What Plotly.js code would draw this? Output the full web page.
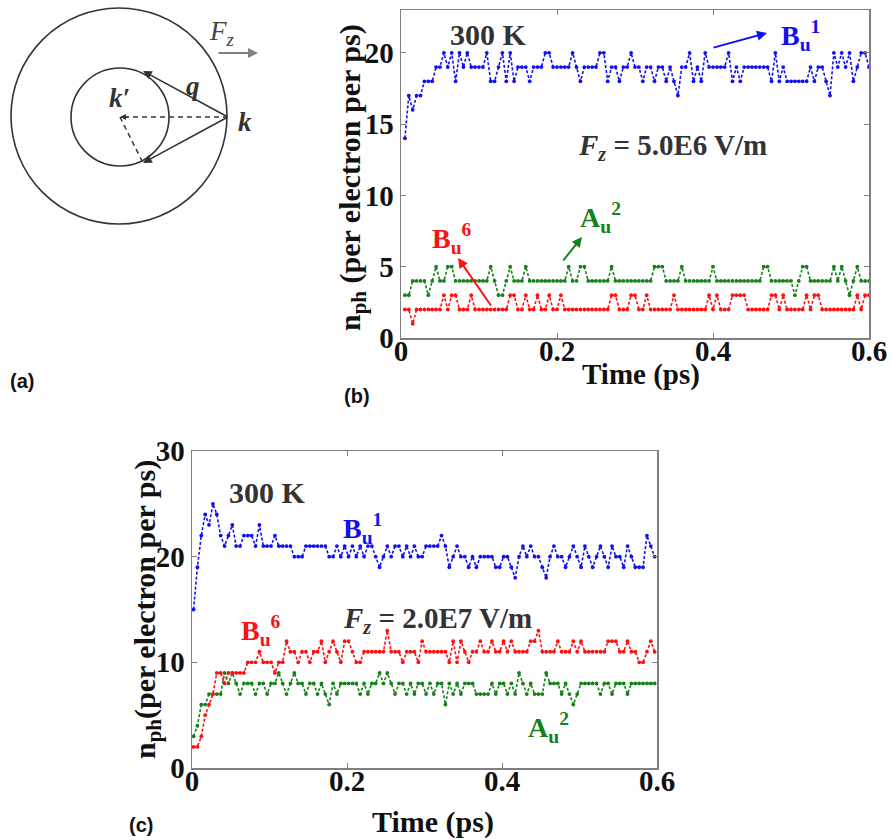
<!DOCTYPE html>
<html>
<head>
<meta charset="utf-8">
<script src="https://cdn.plot.ly/plotly-3.0.1.min.js"></script>
<style>html,body{margin:0;padding:0;background:#fff;}#chart{width:892px;height:840px;}</style>
</head>
<body>
<div id="chart"></div>
<script>
// ---------- data ----------
const timeStartB = 0.005, timeStartC = 0.002, timeStep = 0.005, nPoints = 120;
const timeB = Array.from({length: nPoints}, (_, i) => +(timeStartB + timeStep * i).toFixed(4));
const timeC = Array.from({length: nPoints}, (_, i) => +(timeStartC + timeStep * i).toFixed(4));

// panel (b): Fz = 5.0E6 V/m
const bu1B = [14,17,16,17,17,18,18,18,19,19, 20,19,20,18,20,19,20,19,19,19,
              19,20,18,18,19,20,18,20,18,19, 19,19,18,19,19,19,20,20,19,19,
              19,19,19,20,19,18,19,19,19,19, 20,20,18,19,19,18,19,19,20,19,
              19,18,19,19,18,19,19,18,19,18, 17,19,19,20,18,19,18,20,19,19,
              19,19,19,20,18,19,18,19,19,19, 19,19,19,19,18,20,18,19,18,18,
              18,18,18,18,19,18,19,19,18,17, 20,19,20,19,20,18,19,20,20,19];
const au2B = [3,3,4,4,4,4,3,4,5,4, 4,5,5,4,4,4,4,4,4,4,
              4,4,5,4,3,3,4,5,4,4, 4,5,4,4,4,4,4,4,4,4,
              4,4,5,4,4,5,5,4,4,4, 4,4,4,5,4,4,4,4,4,4,
              4,4,4,4,5,5,5,4,4,4, 4,5,4,4,4,4,4,4,4,5,
              4,4,4,4,4,4,4,4,4,4, 4,4,5,5,4,4,4,4,4,4,
              3,4,5,5,4,4,4,4,4,4, 5,4,5,4,3,4,5,4,4,4];
const bu6B = [2,2,1,2,2,2,2,2,2,2, 3,2,3,3,2,2,2,3,2,2,
              2,2,2,2,2,2,2,3,3,2, 2,3,2,2,3,2,2,3,2,2,
              3,2,2,2,2,2,2,2,2,2, 2,2,2,3,3,2,2,2,3,3,
              2,2,3,2,2,2,2,2,2,3, 2,2,2,2,2,2,2,2,3,2,
              3,2,2,2,3,3,3,3,2,2, 2,2,2,2,3,3,2,3,2,2,
              2,2,2,3,2,3,3,2,2,2, 2,2,2,2,2,2,3,2,3,3];

// panel (c): Fz = 2.0E7 V/m
const bu1C = [15,19,22,24,23,25,24,22,21,22, 23,21,21,22,22,22,21,23,21,21,
              21,22,21,21,21,21,20,20,20,21, 21,21,21,21,21,20,20,21,20,21,
              20,21,20,21,20,21,21,20,19,20, 21,20,21,21,20,21,20,21,20,20,
              21,21,21,21,22,21,19,20,21,20, 20,19,20,19,20,20,20,20,19,19,
              20,20,19,18,20,21,20,21,20,20, 19,18,20,21,20,20,19,20,21,20,
              19,21,20,19,20,21,20,19,21,20, 20,19,21,20,19,19,19,22,21,20];
const bu6C = [2,2,3,5,6,7,9,9,8,9, 9,9,9,9,10,10,10,11,10,10,
              10,9,10,10,12,11,11,10,11,11, 10,11,11,12,10,11,12,11,10,12,
              12,11,10,10,11,11,11,11,11,11, 13,11,11,11,10,11,11,11,10,12,
              11,11,11,11,11,11,10,12,10,12, 11,10,11,11,12,11,11,12,11,11,
              12,11,12,11,11,11,11,12,12,13, 11,11,11,11,12,11,11,11,12,11,
              12,11,11,11,11,11,11,12,12,12, 11,11,12,11,11,10,10,11,12,11];
const au2C = [3,4,6,6,7,7,7,7,9,8, 9,8,7,8,8,8,7,8,8,7,
              8,8,9,8,7,8,9,8,8,7, 8,8,7,8,7,6,8,7,8,8,
              8,8,8,7,8,7,8,8,9,8, 9,8,7,8,8,7,8,7,8,8,
              7,8,7,8,8,6,8,7,8,7, 8,8,8,7,7,7,7,8,7,8,
              8,7,8,7,9,8,7,8,7,7, 7,9,8,8,8,7,8,7,6,7,
              8,8,8,8,8,7,8,8,7,8, 8,8,7,8,8,8,8,8,8,8];

const ticksXB = [0, 0.2, 0.4, 0.6], tickTextXB = ['0', '0.2', '0.4', '0.6'];
const ticksYB = [0, 5, 10, 15, 20];
const ticksYC = [0, 10, 20, 30];

// ---------- styling ----------
const W = 892, H = 840;
const px = x => x / W, py = y => 1 - y / H;
const BLUE = '#1010f0', RED = '#ff1010', GREEN = '#16801a', TXT = '#333333';
const SERIF = 'Liberation Serif, Times New Roman, serif';

function series(x, y, color, xa, ya) {
  return {x: x, y: y, xaxis: xa, yaxis: ya, type: 'scatter', mode: 'lines+markers',
    line: {color: color, width: 1.6, dash: '3px,2px'},
    marker: {color: color, size: 3.8}, hoverinfo: 'x+y'};
}

const traces = [
  series(timeB, bu1B, BLUE, 'x', 'y'),
  series(timeB, au2B, GREEN, 'x', 'y'),
  series(timeB, bu6B, RED, 'x', 'y'),
  series(timeC, bu1C, BLUE, 'x2', 'y2'),
  series(timeC, au2C, GREEN, 'x2', 'y2'),
  series(timeC, bu6C, RED, 'x2', 'y2')
];

function axis(extra) {
  return Object.assign({
    showgrid: false, zeroline: false, showline: true, linecolor: '#808080', linewidth: 1.5,
    mirror: 'allticks', ticks: 'inside', ticklen: 5, tickcolor: '#808080', tickwidth: 1,
    tickfont: {family: SERIF, size: 29, color: '#111', weight: 'bold'},
    fixedrange: true
  }, extra);
}

const tf = (size, color, extra) => Object.assign({family: SERIF, size: size, color: color, weight: 'bold'}, extra || {});

function label(x, y, text, font, extra) {
  return Object.assign({xref: 'paper', yref: 'paper', x: px(x), y: py(y), text: text,
    showarrow: false, font: font, xanchor: 'center', yanchor: 'middle'}, extra || {});
}
function arrow(tipX, tipY, tailX, tailY, color, width, head, size) {
  return {xref: 'paper', yref: 'paper', x: px(tipX), y: py(tipY), ax: tailX - tipX, ay: tailY - tipY,
    text: '', showarrow: true, arrowcolor: color, arrowwidth: width, arrowhead: head, arrowsize: size};
}

const annotations = [
  // panel labels
  label(22, 381, '(a)', {family: 'Liberation Sans, Arial, sans-serif', size: 20, color: '#111', weight: 'bold'}),
  label(357, 396, '(b)', {family: 'Liberation Sans, Arial, sans-serif', size: 20, color: '#111', weight: 'bold'}),
  label(141, 825, '(c)', {family: 'Liberation Sans, Arial, sans-serif', size: 20, color: '#111', weight: 'bold'}),
  // axis titles
  label(641, 374, 'Time (ps)', tf(29, '#111')),
  label(433, 822, 'Time (ps)', tf(30, '#111')),
  label(352, 178, 'n<sub>ph</sub> (per electron per ps)', tf(30, '#111'), {textangle: -90}),
  label(147, 610, 'n<sub>ph</sub>(per electron per ps)', tf(30, '#111'), {textangle: -90}),
  // panel (b) texts
  label(488, 35, '300 K', tf(30, TXT)),
  label(672, 147, '<i>F<sub>z</sub></i> = 5.0E6 V/m', tf(29, TXT)),
  label(800, 36, 'B<sub>u</sub><sup>1</sup>', tf(28, BLUE)),
  label(452, 238, 'B<sub>u</sub><sup>6</sup>', tf(28, RED)),
  label(600, 218, 'A<sub>u</sub><sup>2</sup>', tf(28, GREEN)),
  arrow(767, 33, 712, 48, BLUE, 2, 2, 1),
  arrow(458, 258, 492, 307, RED, 2, 2, 1),
  arrow(582, 237, 562, 262, GREEN, 2, 2, 1),
  // panel (c) texts
  label(267, 492, '300 K', tf(30, TXT)),
  label(437, 620, '<i>F<sub>z</sub></i> = 2.0E7 V/m', tf(29, TXT)),
  label(362, 528, 'B<sub>u</sub><sup>1</sup>', tf(28, BLUE)),
  label(261, 630, 'B<sub>u</sub><sup>6</sup>', tf(28, RED)),
  label(548, 727, 'A<sub>u</sub><sup>2</sup>', tf(28, GREEN)),
  // panel (a) schematic labels
  label(222, 33, '<i>F<sub>z</sub></i>', {family: SERIF, size: 27, color: '#444'}),
  label(193, 86, '<i>q</i>', {family: SERIF, size: 27, color: '#333', weight: 'bold'}),
  label(245, 122, '<i>k</i>', {family: SERIF, size: 27, color: '#333', weight: 'bold'}),
  label(119, 98, '<i>k\u2032</i>', {family: SERIF, size: 27, color: '#333', weight: 'bold'}),
  arrow(258, 53, 217, 53, '#808080', 2, 2, 1),
  arrow(143, 71, 228, 117, '#333', 1.6, 2, 1.1),
  arrow(143, 163, 228, 117, '#333', 1.6, 2, 1.1),
  arrow(120, 117, 130, 117, '#333', 1.2, 2, 1)
];

function circle(cx, cy, r) {
  return {type: 'circle', xref: 'paper', yref: 'paper', x0: px(cx - r), x1: px(cx + r),
    y0: py(cy + r), y1: py(cy - r), line: {color: '#333', width: 1.6}};
}
function seg(x0, y0, x1, y1, dash) {
  return {type: 'line', xref: 'paper', yref: 'paper', x0: px(x0), y0: py(y0), x1: px(x1), y1: py(y1),
    line: {color: '#333', width: 1.5, dash: dash || 'solid'}};
}
const shapes = [
  circle(119, 116, 108),
  circle(120, 117, 49),
  seg(228, 117, 122, 117, '5px,4px'),
  seg(120, 117, 143, 163, '5px,4px')
];

const layout = {
  width: W, height: H, margin: {l: 0, r: 0, t: 0, b: 0},
  paper_bgcolor: '#fff', plot_bgcolor: '#fff', showlegend: false,
  xaxis: axis({domain: [px(401), px(869)], range: [0, 0.6], tickvals: ticksXB, ticktext: tickTextXB, anchor: 'y', ticklabelstandoff: -13}),
  yaxis: axis({domain: [py(338), py(10)], range: [0, 23], tickvals: ticksYB, anchor: 'x'}),
  xaxis2: axis({domain: [px(192), px(657)], range: [0, 0.6], tickvals: ticksXB, ticktext: tickTextXB, anchor: 'y2', ticklabelstandoff: -13}),
  yaxis2: axis({domain: [py(768), py(451)], range: [0, 30], tickvals: ticksYC, anchor: 'x2'}),
  annotations: annotations,
  shapes: shapes
};

Plotly.newPlot('chart', traces, layout, {displayModeBar: false, staticPlot: true});
</script>
</body>
</html>
